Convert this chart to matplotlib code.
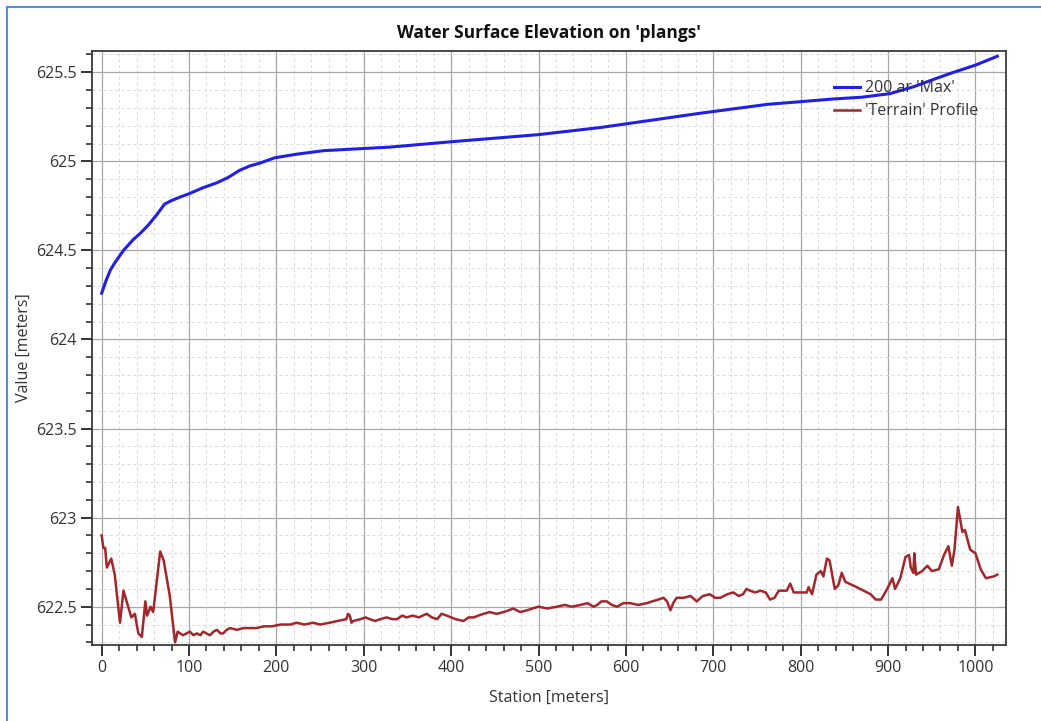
"""Water surface elevation profile vs terrain."""

import matplotlib

matplotlib.use("Agg")
import matplotlib.pyplot as plt
from matplotlib.lines import Line2D
from matplotlib.ticker import MultipleLocator, FuncFormatter

plt.rcParams["font.family"] = ["Open Sans", "DejaVu Sans"]

# 200 ar 'Max' water surface
wse_x = [0, 5, 10, 15, 25, 36, 45, 53, 63, 72, 80, 90, 101, 115, 132, 145, 158, 170,
         181, 198, 223, 254, 292, 330, 400, 500, 571, 685, 762, 800, 837, 870, 902,
         930, 952, 975, 1000, 1025]
wse_y = [624.26, 624.33, 624.39, 624.43, 624.50, 624.56, 624.60, 624.64, 624.70,
         624.76, 624.78, 624.80, 624.82, 624.85, 624.88, 624.91, 624.95, 624.975,
         624.99, 625.02, 625.04, 625.06, 625.07, 625.08, 625.11, 625.15, 625.19,
         625.27, 625.32, 625.335, 625.35, 625.36, 625.38, 625.42, 625.46, 625.50,
         625.54, 625.59]

# 'Terrain' profile
ter_x = [0, 2, 4, 6, 11, 15, 21, 25, 34, 38, 42, 46, 50, 52, 56, 59, 67, 71, 78, 84,
         87, 93, 97, 101, 105, 109, 113, 116, 120, 124, 128, 132, 136, 139, 143, 147,
         155, 162, 170, 177, 186, 195, 205, 216, 223, 232, 242, 250, 261, 270, 280,
         282, 284, 286, 288, 296, 302, 307, 313, 319, 326, 333, 338, 344, 349, 356,
         363, 372, 378, 384, 389, 395, 405, 414, 420, 426, 431, 437, 444, 452, 460,
         466, 471, 479, 487, 493, 500, 510, 521, 530, 538, 548, 556, 563, 567, 572,
         578, 584, 590, 597, 605, 614, 624, 630, 637, 643, 647, 651, 654, 658, 666,
         674, 681, 688, 696, 702, 708, 716, 723, 729, 734, 738, 742, 748, 754, 760,
         765, 770, 775, 784, 788, 792, 800, 807, 809, 813, 818, 823, 826, 830, 833,
         839, 843, 847, 851, 864, 880, 886, 892, 899, 905, 908, 914, 920, 924, 926,
         929, 930, 932, 939, 945, 950, 958, 964, 969, 973, 976, 980, 985, 988, 994,
         1000, 1006, 1012, 1021, 1025]
ter_y = [622.90, 622.83, 622.83, 622.72, 622.77, 622.68, 622.41, 622.59, 622.44,
         622.46, 622.35, 622.33, 622.53, 622.45, 622.50, 622.47, 622.81, 622.76,
         622.56, 622.30, 622.36, 622.34, 622.35, 622.36, 622.34, 622.35, 622.34,
         622.36, 622.35, 622.34, 622.36, 622.37, 622.35, 622.35, 622.37, 622.38,
         622.37, 622.38, 622.38, 622.38, 622.39, 622.39, 622.40, 622.40, 622.41,
         622.40, 622.41, 622.40, 622.41, 622.42, 622.43, 622.46, 622.45, 622.41,
         622.42, 622.43, 622.44, 622.43, 622.42, 622.43, 622.44, 622.43, 622.43,
         622.45, 622.44, 622.45, 622.44, 622.46, 622.44, 622.43, 622.46, 622.45,
         622.43, 622.42, 622.44, 622.44, 622.45, 622.46, 622.47, 622.46, 622.47,
         622.48, 622.49, 622.47, 622.48, 622.49, 622.50, 622.49, 622.50, 622.51,
         622.50, 622.51, 622.52, 622.50, 622.51, 622.53, 622.53, 622.51, 622.50,
         622.52, 622.52, 622.51, 622.52, 622.53, 622.54, 622.55, 622.53, 622.48,
         622.52, 622.55, 622.55, 622.56, 622.53, 622.56, 622.57, 622.55, 622.55,
         622.57, 622.58, 622.56, 622.57, 622.60, 622.59, 622.58, 622.59, 622.58,
         622.54, 622.55, 622.59, 622.59, 622.63, 622.58, 622.58, 622.58, 622.61,
         622.57, 622.68, 622.70, 622.67, 622.77, 622.76, 622.60, 622.62, 622.69,
         622.64, 622.61, 622.57, 622.54, 622.54, 622.60, 622.66, 622.60, 622.66,
         622.78, 622.79, 622.72, 622.69, 622.80, 622.68, 622.70, 622.73, 622.70,
         622.71, 622.79, 622.84, 622.73, 622.82, 623.06, 622.92, 622.93, 622.82,
         622.80, 622.71, 622.66, 622.67, 622.68]

fig = plt.figure(figsize=(10.41, 7.21), dpi=100)
ax = fig.add_axes([0.0884, 0.1054, 0.878, 0.824])

ax.plot(wse_x, wse_y, color="#1f1fe8", linewidth=2.2, label="200 ar 'Max'", zorder=3)
ax.plot(ter_x, ter_y, color="#a3262a", linewidth=1.8, label="'Terrain' Profile", zorder=3)

ax.set_xlim(-11, 1035)
ax.set_ylim(622.285, 625.62)
ax.xaxis.set_major_locator(MultipleLocator(100))
ax.xaxis.set_minor_locator(MultipleLocator(20))
ax.yaxis.set_major_locator(MultipleLocator(0.5))
ax.yaxis.set_minor_locator(MultipleLocator(0.1))
ax.yaxis.set_major_formatter(FuncFormatter(lambda v, p: f"{v:g}"))

ax.grid(True, which="major", color="#a8a8a8", linewidth=0.9)
ax.grid(True, which="minor", color="#dadada", linewidth=0.7, linestyle=(0, (3, 3)))
ax.set_axisbelow(True)

for s in ax.spines.values():
    s.set_color("#3a3a3a")
    s.set_linewidth(1.3)
ax.tick_params(which="major", direction="out", length=8, width=1.4, color="#333333",
               labelsize=11.5, labelcolor="#333333", pad=3)
ax.tick_params(which="minor", direction="out", length=4, width=1.2, color="#333333")

ax.set_xlabel("Station [meters]", fontsize=11.5, color="#333333", labelpad=10)
ax.set_ylabel("Value [meters]", fontsize=11.5, color="#333333", labelpad=3)
ax.set_title("Water Surface Elevation on 'plangs'", fontsize=12.5, fontweight="bold",
             color="#111111", pad=9)

ax.legend(loc="upper right", bbox_to_anchor=(0.985, 0.975), frameon=False,
          fontsize=11.5, handlelength=1.6, handletextpad=0.3, labelspacing=0.45,
          labelcolor="#333333")

# window border (left and top edges)
fig.add_artist(Line2D([7 / 1041, 7 / 1041], [0, 1 - 7 / 721], transform=fig.transFigure,
                      color="#5b8ed6", linewidth=1.5))
fig.add_artist(Line2D([7 / 1041, 1], [1 - 7 / 721, 1 - 7 / 721], transform=fig.transFigure,
                      color="#5b8ed6", linewidth=1.5))

fig.savefig("out.png", dpi=100)
